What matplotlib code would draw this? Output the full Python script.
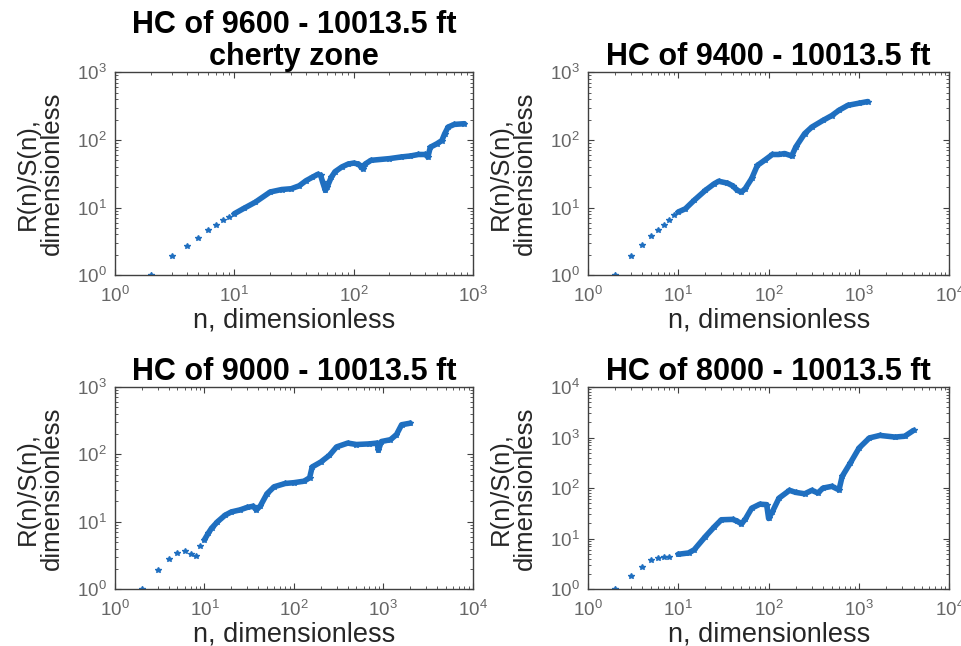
import matplotlib
matplotlib.use("Agg")
import matplotlib.pyplot as plt
from matplotlib.ticker import LogLocator, NullFormatter

plt.rcParams['font.family'] = ['Liberation Sans', 'DejaVu Sans']
plt.rcParams['mathtext.fontset'] = 'custom'
plt.rcParams['mathtext.rm'] = 'Liberation Sans'

# panel titles
titles = ["HC of 9600 - 10013.5 ft\ncherty zone", "HC of 9400 - 10013.5 ft",
          "HC of 9000 - 10013.5 ft", "HC of 8000 - 10013.5 ft"]

# R/S data: n and R(n)/S(n)
n_9600 = [2, 3, 4, 5, 6, 7, 8, 9, 10, 12, 15, 20, 25, 30, 35, 40, 45, 50, 53, 55, 58, 60, 65,
          70, 80, 90, 100, 110, 115, 120, 125, 140, 200, 250, 300, 350, 400, 420, 440, 500,
          550, 580, 620, 700, 850]
rs_9600 = [1.0, 1.9, 2.7, 3.6, 4.6, 5.6, 6.6, 7.3, 8.1, 9.7, 12, 17, 18.5, 19, 21, 25, 28, 31, 30,
           24, 18, 20, 28, 34, 40, 44, 45.5, 44, 40, 37.5, 44, 50, 53, 56, 58, 61, 61, 56, 78,
           88, 98, 123, 155, 170, 174]

n_9400 = [2, 3, 4, 5, 6, 7, 8, 9, 10, 12, 15, 20, 25, 28, 35, 40, 45, 50, 55, 65, 75, 90, 110,
          130, 150, 180, 200, 250, 300, 400, 500, 600, 750, 1000, 1250]
rs_9400 = [1.0, 1.9, 2.8, 3.8, 4.6, 5.5, 6.5, 7.7, 8.6, 9.6, 12.8, 18, 22.5, 24.5, 23, 21, 18,
           17, 19, 27, 42, 50, 61, 61, 63, 58, 79, 124, 155, 195, 230, 275, 325, 350, 370]

n_9000 = [2, 3, 4, 5, 6, 7, 8, 9, 10, 11, 12, 14, 17, 20, 25, 30, 35, 38, 42, 50, 60, 80, 100,
          130, 150, 160, 200, 250, 300, 400, 500, 700, 850, 880, 950, 1200, 1400, 1600, 2000]
rs_9000 = [1.0, 1.9, 2.8, 3.4, 3.7, 3.3, 3.1, 4.3, 5.4, 6.7, 8, 10, 12.5, 14, 15, 16.3, 17, 15,
           17, 26, 33, 37, 38, 40, 45, 65, 77, 97, 129, 147, 140, 143, 147, 115, 155, 165, 196,
           275, 290]

n_8000 = [2, 3, 4, 5, 6, 7, 8, 10, 13, 15, 20, 25, 30, 40, 45, 50, 55, 65, 80, 95, 100, 110,
          130, 170, 200, 250, 300, 350, 400, 500, 600, 650, 800, 1000, 1300, 1700, 2500, 3200,
          4000]
rs_8000 = [1.0, 1.86, 2.8, 3.8, 4.1, 4.3, 4.4, 4.9, 5.2, 6, 11, 17, 23.6, 24, 22, 19.6, 24, 40,
           48, 47, 25, 34, 63, 90, 82, 77, 90, 80, 100, 108, 92, 170, 313, 620, 980, 1100, 1020,
           1060, 1380]

series = [(n_9600, rs_9600), (n_9400, rs_9400), (n_9000, rs_9000), (n_8000, rs_8000)]
xlims = [(1, 1e3), (1, 1e4), (1, 1e4), (1, 1e4)]
ylims = [(1, 1e3), (1, 1e3), (1, 1e3), (1, 1e4)]

boxes = [[0.1195, 0.574, 0.372, 0.314], [0.611, 0.574, 0.376, 0.314],
         [0.1195, 0.088, 0.372, 0.313], [0.611, 0.088, 0.376, 0.313]]

blue = '#1f6fc0'
grey = '#404040'

fig = plt.figure(figsize=(9.62, 6.46), dpi=100)
for i in range(4):
    ax = fig.add_axes(boxes[i])
    n, rs = series[i]
    dense = [k for k in range(len(n)) if n[k] >= 10]
    ax.plot([n[k] for k in dense], [rs[k] for k in dense], color=blue, lw=4,
            solid_capstyle='round', solid_joinstyle='round')
    ax.plot(n, rs, ls='none', marker='*', ms=4, color=blue)
    ax.set_xscale('log')
    ax.set_yscale('log')
    ax.set_xlim(*xlims[i])
    ax.set_ylim(*ylims[i])
    ax.xaxis.set_major_locator(LogLocator(base=10, numticks=10))
    ax.yaxis.set_major_locator(LogLocator(base=10, numticks=10))
    ax.xaxis.set_minor_locator(LogLocator(base=10, subs=range(2, 10), numticks=20))
    ax.yaxis.set_minor_locator(LogLocator(base=10, subs=range(2, 10), numticks=20))
    ax.xaxis.set_minor_formatter(NullFormatter())
    ax.yaxis.set_minor_formatter(NullFormatter())
    ax.tick_params(which='both', direction='in', top=True, right=True, colors=grey,
                   labelsize=13.5, labelcolor='#666666')
    ax.tick_params(which='major', length=4, width=0.8)
    ax.tick_params(which='minor', length=2, width=0.6)
    ax.tick_params(axis='x', pad=8)
    ax.tick_params(axis='y', pad=6)
    for sp in ax.spines.values():
        sp.set_color(grey)
        sp.set_linewidth(1.0)
    ax.set_title(titles[i], fontsize=22, fontweight='bold', color='black', pad=3,
                 linespacing=1.12)
    ax.set_xlabel('n, dimensionless', fontsize=19.5, color='#262626', labelpad=1)
    ax.set_ylabel('R(n)/S(n),\ndimensionless', fontsize=18.5, color='#262626', labelpad=9,
                  linespacing=1.0)

fig.savefig('out.png', dpi=100, facecolor='white')
